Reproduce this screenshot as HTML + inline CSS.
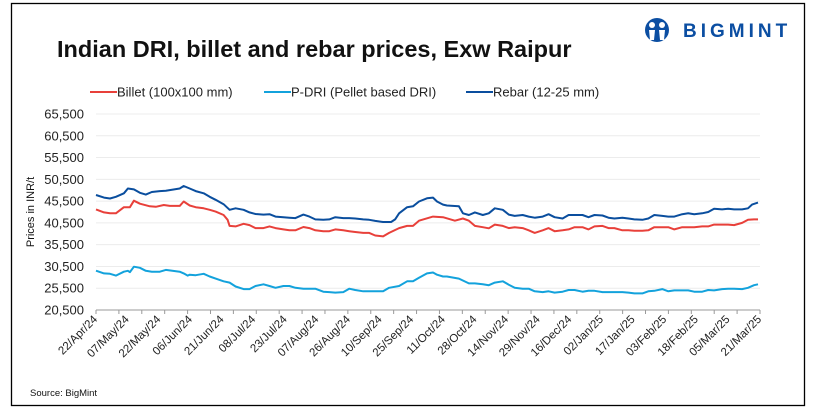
<!DOCTYPE html>
<html><head><meta charset="utf-8"><style>
body{margin:0;background:#fff;}
svg{display:block;font-family:"Liberation Sans",Arial,sans-serif;}
</style></head><body>
<svg width="814" height="414" viewBox="0 0 814 414">
<rect x="11.5" y="3.5" width="793" height="402" fill="#fff" stroke="#000" stroke-width="1.3"/>
<text x="57" y="57" font-size="23.5" font-weight="bold" fill="#111">Indian DRI, billet and rebar prices, Exw  Raipur</text>
<g>
<circle cx="657" cy="30" r="12" fill="#0b4ea2"/>
<circle cx="652" cy="25" r="3" fill="#fff"/><circle cx="662" cy="25" r="3" fill="#fff"/>
<path d="M649 30 L655 30 L654 40 L650 40Z M659 30 L665 30 L664 40 L660 40Z" fill="#fff"/>
<text x="683" y="37" font-size="19" font-weight="bold" fill="#0b4ea2" letter-spacing="4">BIGMINT</text>
</g>
<g id="legend"></g>
<text transform="translate(34,212) rotate(-90)" text-anchor="middle" font-size="11" fill="#111">Prices in INR/t</text>
<g id="grid"></g><g id="axes"></g><g id="series"></g>
<text x="30" y="396" font-size="9.5" fill="#111">Source: BigMint</text>
</svg>
<script>
const yTicks=[20500,25500,30500,35500,40500,45500,50500,55500,60500,65500];
const xLabels=["22/Apr/24","07/May/24","22/May/24","06/Jun/24","21/Jun/24","08/Jul/24","23/Jul/24","07/Aug/24","26/Aug/24","10/Sep/24","25/Sep/24","11/Oct/24","28/Oct/24","14/Nov/24","29/Nov/24","16/Dec/24","02/Jan/25","17/Jan/25","03/Feb/25","18/Feb/25","05/Mar/25","21/Mar/25"];
const seriesNames=["Billet (100x100 mm)","P-DRI (Pellet based DRI)","Rebar (12-25 mm)"];
const rebarDays=[0,4,7,10,14,16,19,22,25,28,32,35,42,44,47,50,54,57,60,64,67,70,74,77,80,84,87,90,94,97,100,104,107,110,114,117,120,124,127,130,134,137,140,144,148,150,152,156,159,162,166,169,171,174,176,182,184,187,190,194,197,200,204,207,210,214,217,220,224,227,230,234,237,240,244,247,250,254,257,260,264,267,270,274,277,280,284,287,290,294,297,300,304,307,310,314,317,320,324,327,329,332];
const rebarValues=[46900,46300,46100,46500,47300,48400,48200,47400,47000,47600,47800,47900,48400,48960,48400,47800,47300,46500,45800,44800,43500,43850,43500,42900,42550,42400,42500,41950,41800,41700,41600,42400,41950,41300,41200,41300,41800,41600,41600,41500,41300,41200,40950,40700,40700,41300,42700,44100,44300,45400,46150,46300,45400,44700,44500,44300,42700,42300,42900,42300,42700,43850,43500,42400,42100,42300,41950,41700,41950,42500,41800,41500,42300,42300,42300,41800,42300,42200,41700,41500,41700,41500,41300,41200,41500,42300,42100,41950,41950,42500,42700,42500,42700,43000,43750,43600,43750,43600,43600,43850,44700,45150];
const billetDays=[0,4,7,10,14,17,19,22,27,30,34,37,42,44,47,50,54,57,60,64,66,67,70,74,77,80,84,87,90,94,97,100,104,107,110,114,117,120,124,127,130,134,137,140,144,147,152,156,159,162,169,174,180,184,187,190,194,197,200,204,207,210,214,217,220,224,227,230,234,237,240,244,247,250,254,257,260,264,267,270,274,277,280,284,287,290,294,297,300,304,307,310,314,317,320,324,327,330,332];
const billetValues=[43600,42900,42700,42700,44100,44100,45600,44900,44300,44200,44600,44400,44400,45400,44500,44100,43850,43500,43100,42300,41200,39800,39700,40300,40000,39300,39300,39700,39300,39000,38800,38800,39550,39300,38800,38600,38600,39000,38800,38600,38400,38200,38200,37600,37400,38200,39300,39800,39800,41000,41950,41800,41000,41500,41000,39800,39500,39250,40100,39800,39300,39500,39300,38800,38200,38800,39300,38600,38800,39000,39500,39500,39000,39700,39800,39300,39300,38800,38800,38700,38700,38800,39500,39500,39500,39000,39500,39500,39500,39700,39700,40100,40100,40100,40000,40500,41200,41300,41300];
const pdriDays=[0,4,7,10,14,16,17,19,22,25,28,32,35,42,44,46,47,50,54,57,60,64,67,70,74,77,80,84,87,90,94,97,100,104,107,110,114,117,120,124,127,130,134,137,140,144,147,152,156,159,162,166,169,171,174,176,182,187,190,194,197,200,204,207,210,214,217,220,224,227,230,234,237,240,244,247,250,254,257,260,264,267,270,274,277,280,284,287,290,294,297,300,304,307,310,314,317,320,324,327,330,332];
const pdriValues=[29520,28900,28800,28400,29300,29500,29200,30450,30200,29500,29300,29300,29700,29300,28900,28400,28600,28500,28800,28200,27700,27100,26800,25900,25300,25300,26000,26400,26000,25600,26000,26000,25600,25400,25400,25400,24700,24600,24500,24600,25400,25100,24800,24800,24800,24800,25600,26000,27100,27100,27900,28900,29100,28600,28200,28200,27700,26600,26600,26400,26200,26800,27100,26300,25600,25400,25400,24800,24600,24800,24500,24700,25100,25100,24700,24900,24900,24600,24600,24600,24600,24500,24300,24300,24800,24900,25300,24800,25000,25000,25000,24700,24700,25100,25000,25300,25400,25400,25300,25600,26200,26400];
const NS="http://www.w3.org/2000/svg";
const X0=96,X1=760,Y0=310,Y1=114,DMAX=333,VMIN=20500,VMAX=65500;
const xs=d=>X0+d/DMAX*(X1-X0);
const ys=v=>Y0-(v-VMIN)/(VMAX-VMIN)*(Y0-Y1);
function mk(tag,attrs,parent){const e=document.createElementNS(NS,tag);for(const k in attrs)e.setAttribute(k,attrs[k]);parent.appendChild(e);return e;}
const grid=document.getElementById('grid'),axes=document.getElementById('axes'),ser=document.getElementById('series'),leg=document.getElementById('legend');
yTicks.forEach(v=>{
  if(v>VMIN){const l=mk('line',{x1:X0,x2:X1,y1:ys(v),y2:ys(v),stroke:'#ececec','stroke-width':1},grid);
  
  }
  const t=mk('text',{x:84,y:ys(v)+4.5,'text-anchor':'end','font-size':13,fill:'#222'},axes);
  t.textContent=v.toLocaleString('en-US');
  
  
});
const ax=mk('line',{x1:X0,x2:X1,y1:Y0,y2:Y0,stroke:'#999','stroke-width':1},axes);


const nT=29;
for(let i=0;i<=nT;i++){const x=X0+i*(X1-X0)/nT;const tk=mk('line',{x1:x,x2:x,y1:Y0,y2:Y0+4,stroke:'#999'},axes);

}
xLabels.forEach((s,i)=>{const x=X0+i*(X1-X0)/(xLabels.length-1);
  const t=mk('text',{transform:`translate(${x+2},${Y0+10}) rotate(-45)`,'text-anchor':'end','font-size':11.5,fill:'#222'},axes);
  t.textContent=s;
  
  });
const defs=[[billetDays,billetValues,'#e8403a','billet-line'],[pdriDays,pdriValues,'#13a2dc','pdri-line'],[rebarDays,rebarValues,'#0a4e9e','rebar-line']];
defs.forEach(([d,v,c,n])=>{const p=mk('polyline',{points:d.map((dd,i)=>xs(dd).toFixed(1)+','+ys(v[i]).toFixed(1)).join(' '),fill:'none',stroke:c,'stroke-width':2,'stroke-linejoin':'round'},ser);
  
  });
const lx=[90,264,466];
seriesNames.forEach((s,i)=>{const g=mk('g',{},leg);
  
  
  mk('line',{x1:lx[i],x2:lx[i]+27,y1:92,y2:92,stroke:defs[i][2],'stroke-width':2},g);
  const t=mk('text',{x:lx[i]+27,y:96.5,'font-size':13,fill:'#222'},g);t.textContent=s;});
</script>
</body></html>
